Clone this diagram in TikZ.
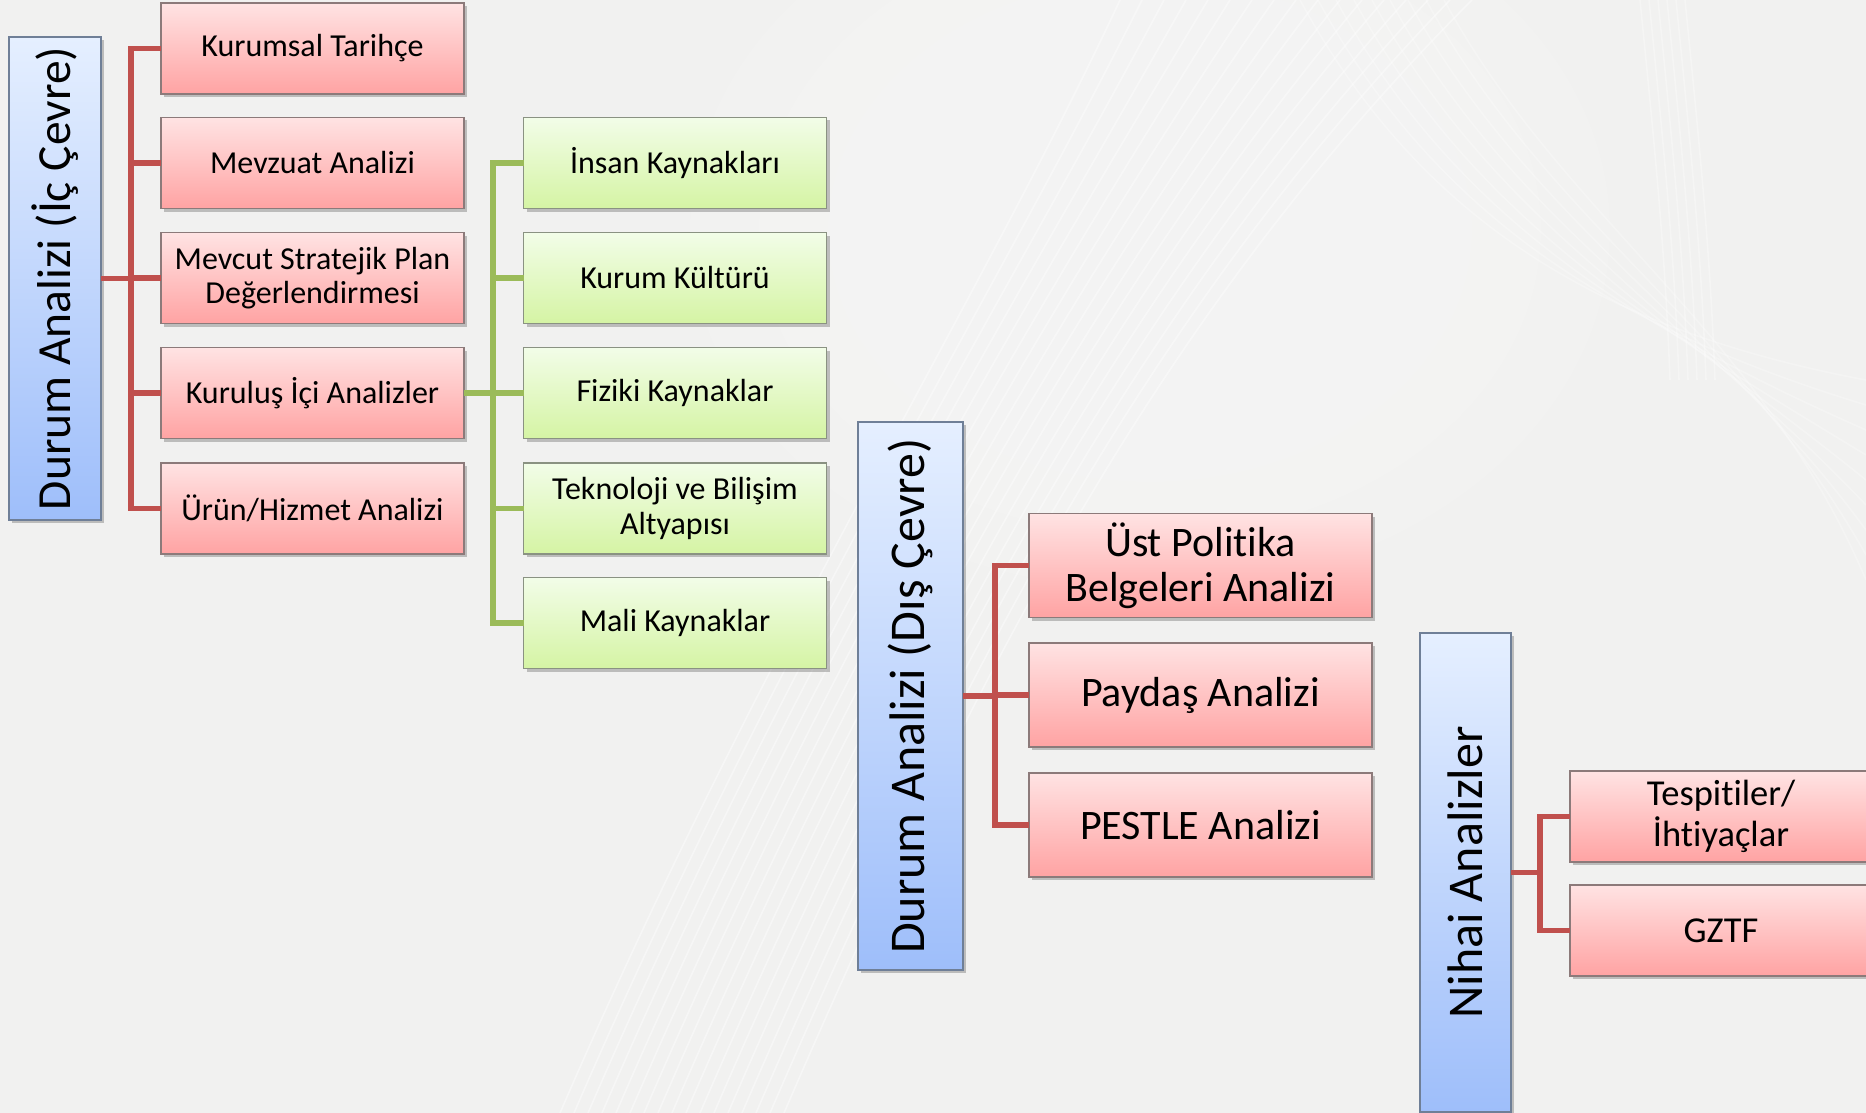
\documentclass[tikz,border=0pt]{standalone}
\usepackage{fontspec}
\setmainfont{Carlito}[Ligatures={NoCommon,NoRequired,NoContextual}]
\usetikzlibrary{shadows}

% keep t and i apart (no joined glyph)
\newcommand{\tsep}{\kern0pt}

\definecolor{bg}{HTML}{F1F1F0}
\definecolor{redtop}{HTML}{FFE3E3}
\definecolor{redbot}{HTML}{FFA3A3}
\definecolor{rededge}{HTML}{8C7A7A}
\definecolor{greentop}{HTML}{F2FDE8}
\definecolor{greenbot}{HTML}{D5F4A4}
\definecolor{greenedge}{HTML}{8A9282}
\definecolor{bluetop}{HTML}{E5EFFF}
\definecolor{bluebot}{HTML}{9EBEFA}
\definecolor{blueedge}{HTML}{6F7F97}
\definecolor{redwire}{HTML}{C0504D}
\definecolor{greenwire}{HTML}{9BBB59}

\tikzset{
  box/.style={rectangle, inner sep=0pt, outer sep=0pt, line width=1.3pt,
    align=center, text=black,
    drop shadow={shadow xshift=3pt, shadow yshift=-3pt, opacity=0.22, fill=black}},
  redbox/.style={box, draw=rededge, top color=redtop, bottom color=redbot},
  greenbox/.style={box, draw=greenedge, top color=greentop, bottom color=greenbot},
  bluebox/.style={box, draw=blueedge, top color=bluetop, bottom color=bluebot},
  smallbox/.style={minimum width=303pt, minimum height=91pt,
    font=\fontsize{32pt}{34.5pt}\selectfont},
  bigbox/.style={minimum width=343pt, minimum height=104pt,
    font=\fontsize{42pt}{45pt}\selectfont},
  lastbox/.style={minimum width=302pt, minimum height=91pt,
    font=\fontsize{36.5pt}{40.5pt}\selectfont},
  sidetext/.style={rotate=90, inner sep=0pt, text=black},
  redlink/.style={draw=redwire, line width=5.5pt},
  greenlink/.style={draw=greenwire, line width=5.5pt},
  streak/.style={draw=white, line width=1.6pt, opacity=0.4}
}

\begin{document}
\begin{tikzpicture}[x=1pt, y=-1pt]
  \useasboundingbox (0,0) rectangle (1866,1113);
  \clip (0,0) rectangle (1866,1113);

  % backdrop with light swooshes
  \fill[bg] (0,0) rectangle (1866,1113);
  \foreach \r in {1.0,0.85,0.7,0.55,0.4} {
    \fill[white, opacity=0.08] (1150,230) ellipse ({460*\r} and {360*\r});
  }
  \foreach \i in {0,...,16} {
    \draw[streak] (560+14*\i,1113) .. controls (760+14*\i,650) and (980+12*\i,300) .. (1120+22*\i,0);
  }
  \foreach \i in {0,...,8} {
    \draw[streak, opacity=0.25] (1300+18*\i,0) .. controls (1420+18*\i,220) and (1600+20*\i,330) .. (1866,380+25*\i);
  }
  \foreach \i in {0,...,5} {
    \draw[streak, opacity=0.3] (1640+9*\i,0) .. controls (1655+9*\i,150) and (1665+9*\i,250) .. (1670+9*\i,380);
  }

  % internal environment
  \node[bluebox, minimum width=92pt, minimum height=483pt] (d1) at (55,278.5) {};
  \node[sidetext, font=\fontsize{47.5pt}{50pt}\selectfont] (d1t) at (d1.center) {Durum Analizi (İç Çevre)};

  \node[redbox, smallbox] (kt) at (312.5,48.5) {Kurumsal Tarihçe};
  \node[redbox, smallbox] (ma) at (312.5,163) {Mevzuat Analizi};
  \node[redbox, smallbox] (ms) at (312.5,278) {Mevcut Stratejik Plan\\Değerlendirmesi};
  \node[redbox, smallbox] (ki) at (312.5,393) {Kuruluş İçi Analizler};
  \node[redbox, smallbox] (uh) at (312.5,508.5) {Ürün/Hizmet Analizi};

  \node[greenbox, smallbox] (ik) at (675,163) {İnsan Kaynakları};
  \node[greenbox, smallbox] (kk) at (675,278) {Kurum Kültürü};
  \node[greenbox, smallbox] (fk) at (675,393) {Fiziki Kaynaklar};
  \node[greenbox, smallbox] (tb) at (675,508.5) {Teknoloji ve Bilişim\\Altyapısı};
  \node[greenbox, smallbox] (mk) at (675,623) {Mali Kaynaklar};

  \path (d1.east) ++(30,0) coordinate (j1);
  \draw[redlink] (d1.east) -- (j1);
  \foreach \n in {kt,ma,ms,ki,uh} \draw[redlink] (j1) |- (\n.west);

  \path (ki.east) ++(29,0) coordinate (j2);
  \draw[greenlink] (ki.east) -- (j2);
  \foreach \n in {ik,kk,fk,tb,mk} \draw[greenlink] (j2) |- (\n.west);

  % external environment
  \node[bluebox, minimum width=105pt, minimum height=548pt] (d2) at (910.5,696) {};
  \node[sidetext, font=\fontsize{50pt}{52pt}\selectfont] (d2t) at (d2.center) {Durum Analizi (Dış Çevre)};

  \node[redbox, bigbox] (up) at (1200.5,565.5) {Üst Polit\tsep ika\\Belgeleri Analizi};
  \node[redbox, bigbox] (pa) at (1200.5,695) {Paydaş Analizi};
  \node[redbox, bigbox] (pe) at (1200.5,825) {PESTLE Analizi};

  \path (d2.east) ++(32,0) coordinate (j3);
  \draw[redlink] (d2.east) -- (j3);
  \foreach \n in {up,pa,pe} \draw[redlink] (j3) |- (\n.west);

  % final analyses
  \node[bluebox, minimum width=91pt, minimum height=479pt] (d3) at (1465.5,872.5) {};
  \node[sidetext, font=\fontsize{50pt}{52pt}\selectfont] (d3t) at (d3.center) {Nihai Analizler};

  \node[redbox, lastbox] (ti) at (1721,816.5) {Tespit\tsep iler/\\İht\tsep iyaçlar};
  \node[redbox, lastbox] (gz) at (1721,930.5) {GZTF};

  \path (d3.east) ++(29,0) coordinate (j4);
  \draw[redlink] (d3.east) -- (j4);
  \foreach \n in {ti,gz} \draw[redlink] (j4) |- (\n.west);
\end{tikzpicture}
\end{document}
